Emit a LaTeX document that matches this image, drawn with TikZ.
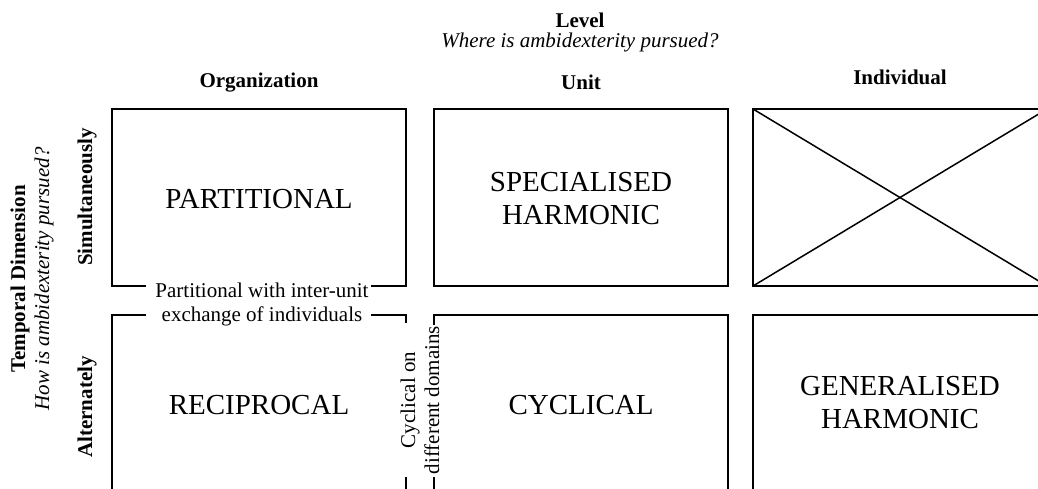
\documentclass[tikz,border=0pt]{standalone}
\usepackage{fontspec}
\setmainfont{Liberation Serif}
\begin{document}
\begin{tikzpicture}[x=1pt,y=-1pt,
  box/.style={line width=1.6pt, draw=black, line cap=rect},
  cross/.style={line width=1.5pt, draw=black},
  lab/.style={font=\fontsize{21}{24}\selectfont, align=center, inner sep=0pt},
  blab/.style={font=\fontsize{21}{24}\selectfont\bfseries, align=center, inner sep=0pt},
  ilab/.style={font=\fontsize{21}{24}\selectfont\itshape, align=center, inner sep=0pt},
  big/.style={font=\fontsize{29}{33}\selectfont, align=center, inner sep=0pt}]
\useasboundingbox (0,0) rectangle (1038,488);
\clip (0,0) rectangle (1038,488);
% corner coordinates
\coordinate (a1) at (112,109); \coordinate (a2) at (406,286);
\coordinate (b1) at (434,109); \coordinate (b2) at (728,286);
\coordinate (c1) at (753,109); \coordinate (c2) at (1047,286);
% top-left box (gap in bottom edge)
\draw[box] (145,286) -- (112,286) -- (a1) -- (406,109) -- (a2) -- (372,286);
% bottom-left box (gap in top and right edges)
\draw[box] (145,315) -- (112,315) -- (112,500);
\draw[box] (372,315) -- (406,315) -- (406,322);
\draw[box] (406,478) -- (406,500);
% top-middle box
\draw[box] (b1) rectangle (b2);
% bottom-middle box (gap in left edge)
\draw[box] (434,324) -- (434,315) -- (728,315) -- (728,500);
\draw[box] (434,478) -- (434,500);
% top-right box with cross
\draw[box] (c1) rectangle (c2);
\draw[cross] (c1) -- (c2);
\draw[cross] (753,286) -- (1047,109);
% bottom-right box
\draw[box] (753,500) -- (753,315) -- (1060,315);

% headers
\node[blab, anchor=base] (level) at (580,27) {Level};
\node[ilab, anchor=base] (where) at (580,47) {Where is ambidexterity pursued?};
\node[blab, anchor=base] (org) at (259,87) {Organization};
\node[blab, anchor=base] (unit) at (581,89) {Unit};
\node[blab, anchor=base] (ind) at (900,84) {Individual};

% left labels
\node[lab, rotate=90] (temp) at (32,279) {\textbf{Temporal Dimension}\\\textit{How is ambidexterity pursued?}};
\node[blab, rotate=90] (sim) at (87,197) {Simultaneously};
\node[blab, rotate=90] (alt) at (87,407) {Alternately};

% cell texts
\node[big, anchor=base] (part) at (259,208) {PARTITIONAL};
\node[big] (spec) at (581,199) {SPECIALISED\\HARMONIC};
\node[big, anchor=base] (recip) at (259,414) {RECIPROCAL};
\node[big, anchor=base] (cyc) at (581,414) {CYCLICAL};
\node[big] (gen) at (900,403) {GENERALISED\\HARMONIC};

% in-between labels
\node[lab] (pie) at (262,304) {Partitional with inter-unit\\exchange of individuals};
\node[lab, rotate=90] (cdd) at (420,400) {Cyclical on\\different domains};
\end{tikzpicture}
\end{document}
